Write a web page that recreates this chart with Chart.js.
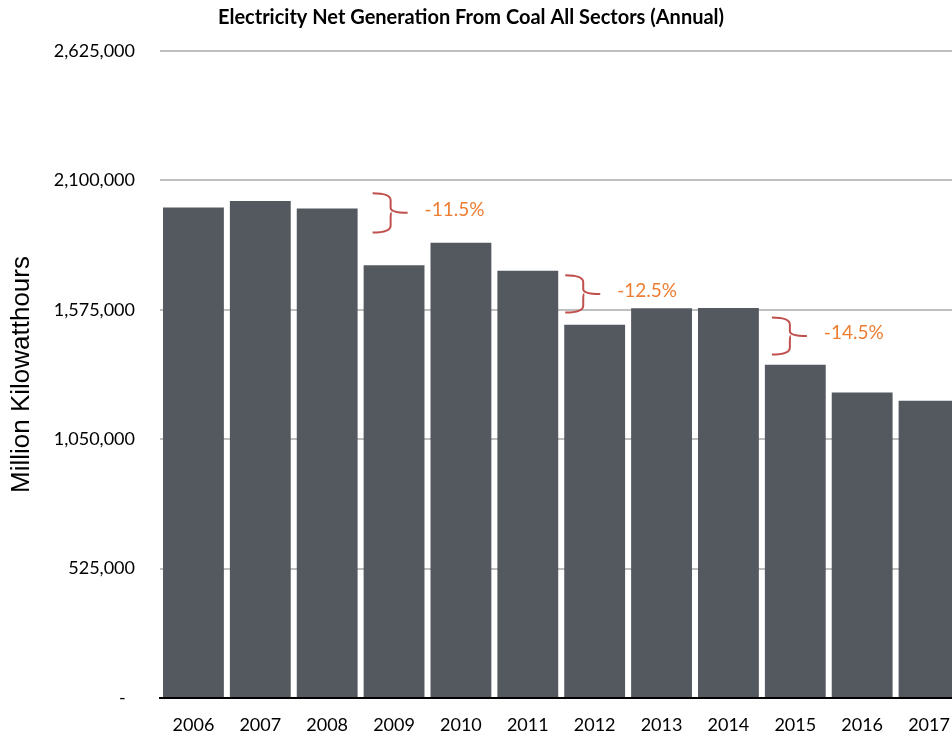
<!DOCTYPE html>
<html>
<head>
<meta charset="utf-8">
<script src="https://cdn.jsdelivr.net/npm/chart.js@4.4.1/dist/chart.umd.min.js"></script>
<style>
    html, body { margin: 0; padding: 0; background: #fff; overflow: hidden; }
    #wrap { width: 966px; height: 737px; }
</style>
</head>
<body>
<div id="wrap"><canvas id="coalChart"></canvas></div>
<script>
// annual net generation from coal, all sectors (million kWh)
const years = ['2006', '2007', '2008', '2009', '2010', '2011', '2012', '2013', '2014', '2015', '2016', '2017'];
const generation = [1990000, 2016000, 1986000, 1756000, 1847000, 1733000, 1514000, 1581000, 1582000, 1352000, 1239000, 1206000];
const yTicks = [0, 525000, 1050000, 1575000, 2100000, 2625000];

// the three big drops, marked with a brace and a percentage
const drops = [
    { index: 3, text: '-11.5%', from: 2048000, to: 1889000, shift: 12 },
    { index: 6, text: '-12.5%', from: 1715000, to: 1564000, shift: 4 },
    { index: 9, text: '-14.5%', from: 1544000, to: 1394000, shift: 10 }
];

const heading = 'Electricity Net Generation From Coal All Sectors (Annual)';

// draws heading + braces with labels
const bracePlugin = {
    id: 'braces',
    afterDatasetsDraw(chart) {
        const { ctx, scales: { x, y } } = chart;
        const catW = x.width / years.length;
        ctx.save();

        drops.forEach(d => {
            const x0 = x.getPixelForValue(d.index) - catW / 2 + d.shift;
            const xv = x0 + 18;
            const xp = xv + 17;
            const top = y.getPixelForValue(d.from);
            const bot = y.getPixelForValue(d.to);
            const mid = (top + bot) / 2;

            ctx.beginPath();
            ctx.moveTo(x0, top);
            ctx.quadraticCurveTo(xv, top, xv, top + 7);
            ctx.lineTo(xv, mid - 5);
            ctx.quadraticCurveTo(xv, mid, xp, mid);
            ctx.moveTo(xv + 1, mid);
            ctx.quadraticCurveTo(xv, mid, xv, mid + 5);
            ctx.lineTo(xv, bot - 7);
            ctx.quadraticCurveTo(xv, bot, x0, bot);
            ctx.strokeStyle = '#C0504D';
            ctx.lineWidth = 2;
            ctx.stroke();

            ctx.fillStyle = '#ED7D31';
            ctx.font = '19px Lato';
            ctx.textAlign = 'left';
            ctx.textBaseline = 'middle';
            ctx.fillText(d.text, xp + 17, mid - 3);
        });

        ctx.fillStyle = '#000';
        ctx.font = 'bold 20px Lato';
        ctx.textAlign = 'center';
        ctx.textBaseline = 'middle';
        ctx.fillText(heading, 471, 18);
        ctx.restore();
    }
};

const ctx = document.getElementById('coalChart').getContext('2d');

new Chart(ctx, {
    type: 'bar',
    data: {
        labels: years,
        datasets: [{
            data: generation,
            backgroundColor: '#54585F',
            categoryPercentage: 1,
            barPercentage: 0.91
        }]
    },
    options: {
        responsive: true,
        maintainAspectRatio: false,
        animation: false,
        layout: { padding: { top: 51, right: 2, bottom: 1, left: 0 } },
        plugins: {
            legend: { display: false },
            tooltip: { enabled: false }
        },
        scales: {
            x: {
                afterFit(scale) { scale.height = 38; },
                grid: { display: false, drawTicks: false },
                border: { display: true, color: '#000', width: 2 },
                ticks: {
                    color: '#000',
                    font: { family: 'Lato', size: 18 },
                    padding: 16,
                    maxRotation: 0
                }
            },
            y: {
                min: 0,
                max: 2625000,
                afterFit(scale) { scale.width = 160; },
                afterBuildTicks(scale) { scale.ticks = yTicks.map(v => ({ value: v })); },
                grid: {
                    drawTicks: false,
                    lineWidth: 2,
                    color: c => c.tick && c.tick.value === 0 ? 'rgba(0,0,0,0)' : '#BFBFBF'
                },
                border: { display: false },
                ticks: {
                    color: '#000',
                    font: { family: 'Lato', size: 18 },
                    padding: 25,
                    callback: v => v === 0 ? '-  ' : v.toLocaleString('en-US')
                },
                title: {
                    display: true,
                    text: 'Million Kilowatthours',
                    color: '#000',
                    font: { family: 'Liberation Sans', size: 26 },
                    padding: { top: 6, bottom: 0 }
                }
            }
        }
    },
    plugins: [bracePlugin]
});
</script>
</body>
</html>
